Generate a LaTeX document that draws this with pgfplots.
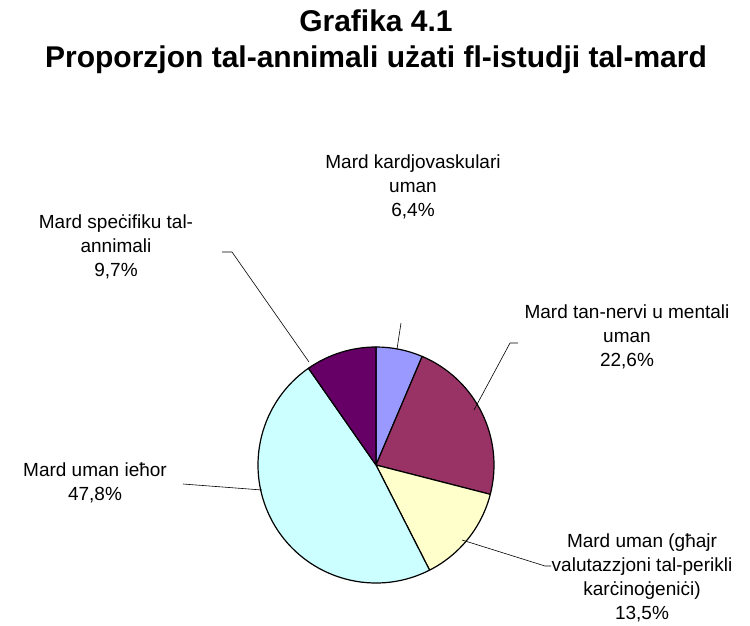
\documentclass[border=0pt]{standalone}
\usepackage{pgfplots}
\usepackage{pgfplotstable}
\pgfplotsset{compat=1.18}
\usepackage{fontspec}
\setmainfont{Liberation Sans}

\definecolor{sA}{HTML}{9999FF}
\definecolor{sB}{HTML}{993366}
\definecolor{sC}{HTML}{FFFFCC}
\definecolor{sD}{HTML}{CCFFFF}
\definecolor{sE}{HTML}{660066}

% share of animals per disease area, clockwise from 12 o'clock
\pgfplotstableread{
value colour
6.4  sA
22.6 sB
13.5 sC
47.8 sD
9.7  sE
}\piedata

\begin{document}
\begin{tikzpicture}
\begin{axis}[
    hide axis,
    scale only axis,
    width=750pt, height=626pt,
    xmin=0, xmax=750, ymin=0, ymax=626,
    y dir=reverse,
    clip=false,
]
\addplot[draw=none, forget plot] coordinates {(0,0) (750,626)};

\pgfplotsextra{
  \def\cx{376}\def\cy{465}\def\r{118pt}
  \gdef\acc{90}
  \foreach \i in {0,...,4}{
    \pgfplotstablegetelem{\i}{value}\of\piedata
    \let\v\pgfplotsretval
    \pgfplotstablegetelem{\i}{colour}\of\piedata
    \let\c\pgfplotsretval
    \pgfmathsetmacro\aend{\acc-3.6*\v}
    \filldraw[fill=\c, draw=black, line width=1.2pt, line join=round]
      (axis cs:\cx,\cy) -- ++(\acc:\r)
      arc[start angle=\acc, end angle=\aend, radius=\r] -- cycle;
    \xdef\acc{\aend}
  }
}

% title
\tikzset{ttl/.style={font=\fontsize{30}{35}\selectfont\bfseries, anchor=base}}
\node[ttl] at (axis cs:376,32) {Grafika 4.1};
\node[ttl] at (axis cs:376,67) {Proporzjon tal-annimali użati fl-istudji tal-mard};

% leader lines
\draw[line width=0.6pt] (axis cs:397,349) -- (axis cs:401,323);
\draw[line width=0.6pt] (axis cs:474,410) -- (axis cs:510,343) -- (axis cs:518,343);
\draw[line width=0.6pt] (axis cs:462,540) -- (axis cs:545,566) -- (axis cs:551,566);
\draw[line width=0.6pt] (axis cs:262,490) -- (axis cs:183,484);
\draw[line width=0.6pt] (axis cs:309,362) -- (axis cs:232,252) -- (axis cs:222,252);

% data labels (anchored at the baseline of their last line)
\tikzset{lbl/.style={font=\fontsize{19}{24}\selectfont, align=center, anchor=base}}
\node[lbl] at (axis cs:413,216) {Mard kardjovaskulari\\uman\\6,4\%};
\node[lbl] at (axis cs:627,366) {Mard tan-nervi u mentali\\uman\\22,6\%};
\node[lbl] at (axis cs:642,619) {Mard uman (għajr\\valutazzjoni tal-perikli\\karċinoġeniċi)\\13,5\%};
\node[lbl] at (axis cs:95,500) {Mard uman ieħor\\47,8\%};
\node[lbl] at (axis cs:116,276) {Mard speċifiku tal-\\annimali\\9,7\%};
\end{axis}
\end{tikzpicture}
\end{document}
